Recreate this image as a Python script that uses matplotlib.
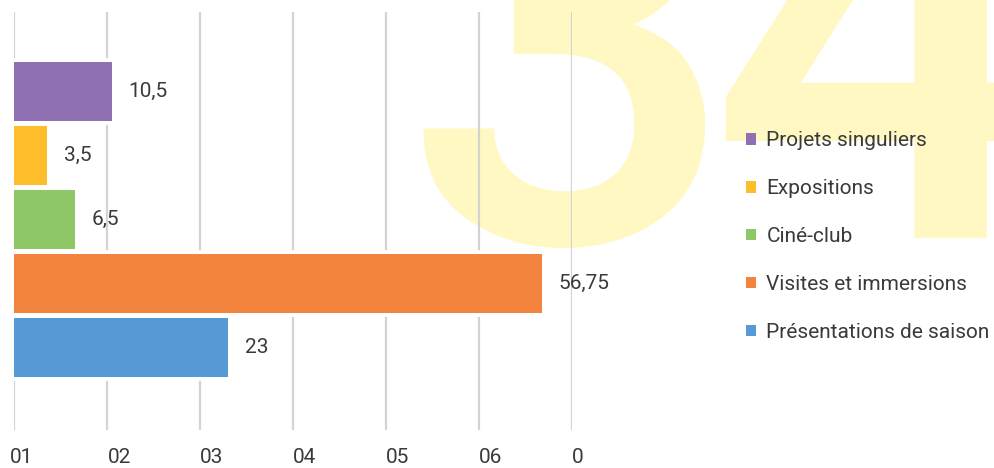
import matplotlib
matplotlib.use('Agg')
import matplotlib.pyplot as plt
import matplotlib.transforms as mtransforms
from matplotlib.patches import Patch

# data (top to bottom as shown)
categories = ['Projets singuliers', 'Expositions', 'Ciné-club',
              'Visites et immersions', 'Présentations de saison']
values = [10.5, 3.5, 6.5, 56.75, 23]
value_labels = ['10,5', '3,5', '6,5', '56,75', '23']
colors = ['#8E70B3', '#FEBE2C', '#8DC766', '#F2843E', '#559AD4']
tick_pos = [0, 10, 20, 30, 40, 50, 60]
tick_labels = ['01', '02', '03', '04', '05', '06', '0']

plt.rcParams['font.family'] = ['Roboto', 'DejaVu Sans']
text_color = '#3A3A3A'
fs = 15

fig = plt.figure(figsize=(9.95, 4.68), dpi=100)
ax = fig.add_axes([14.5 / 995, 1 - 430 / 468, (572 - 14.5) / 995, (430 - 12) / 468])
ax.patch.set_alpha(0)

# big decorative "34" behind the chart
ax.text(400 / 995, 1 - 242 / 468, '3', transform=fig.transFigure, fontsize=430,
        fontweight='medium', color='#FFF8C3',
        ha='left', va='baseline', zorder=0.1, clip_on=False)
ax.text(708 / 995, 1 - 238 / 468, '4', transform=fig.transFigure, fontsize=440,
        fontweight='medium', color='#FFF8C3',
        ha='left', va='baseline', zorder=0.1, clip_on=False)

ypos = list(range(len(categories)))[::-1]

ax.set_axisbelow(True)
ax.grid(axis='x', color='#D3D3D3', linewidth=1.6)
ax.grid(axis='y', visible=False)

# white halo then coloured fill
ax.barh(ypos, values, height=0.92, color='white', edgecolor='white',
        linewidth=5.5, zorder=1)
bars = ax.barh(ypos, values, height=0.92, color=colors, zorder=2)

for y, v, lab in zip(ypos, values, value_labels):
    ax.annotate(lab, (v, y), xytext=(12, 0), textcoords='offset points',
                ha='left', va='center', fontsize=fs, color=text_color)

ax.set_xlim(0, 60)
ax.set_ylim(-1.29, 5.24)
ax.set_yticks([])
ax.set_xticks(tick_pos)
ax.set_xticklabels(tick_labels, fontsize=fs, color=text_color, ha='left')
ax.tick_params(axis='x', length=0, pad=13)
labs = ax.get_xticklabels()
labs[0].set_transform(labs[0].get_transform() +
                      mtransforms.ScaledTranslation(-5 / 100, 0, fig.dpi_scale_trans))
for s in ax.spines.values():
    s.set_visible(False)

handles = [Patch(facecolor=c, edgecolor='none') for c in colors]
fig.legend(handles, categories, loc='upper left',
           bbox_to_anchor=(746 / 995, 1 - 131 / 468), frameon=False,
           fontsize=fs, labelcolor=text_color, handlelength=0.5,
           handleheight=0.5, handletextpad=0.48, labelspacing=1.39,
           borderpad=0, borderaxespad=0)

fig.savefig('out.png', dpi=100)
